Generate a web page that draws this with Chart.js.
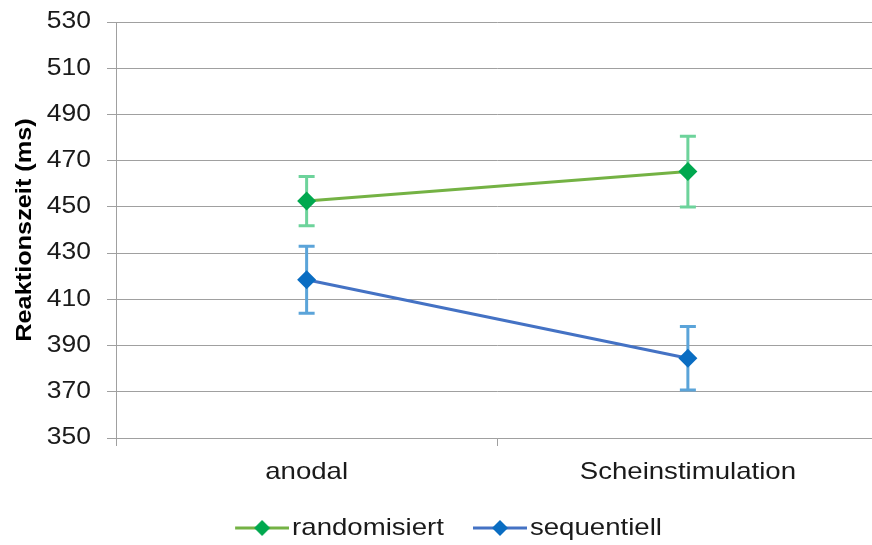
<!DOCTYPE html>
<html><head><meta charset="utf-8">
<script src="https://cdn.jsdelivr.net/npm/chart.js@4"></script>
<style>html,body{margin:0;padding:0;overflow:hidden;background:#fff}#c{display:block}</style>
</head><body>
<canvas id="c" width="888" height="545" style="width:888px;height:545px"></canvas>
<script>
const categories = ['anodal', 'Scheinstimulation'];
const randomisiert = [452.5, 465.3];
const randomisiertErr = [10.7, 15.3];
const sequentiell = [418.5, 384.5];
const sequentiellErr = [14.5, 13.7];
const yTicks = [350, 370, 390, 410, 430, 450, 470, 490, 510, 530];

const FONT = 'Liberation Sans, Arial, sans-serif';
const STRETCH = 1.15;

// widen glyphs horizontally (reference text is rendered wide)
(function patchCtx() {
  const proto = CanvasRenderingContext2D.prototype;
  const ft = proto.fillText, mt = proto.measureText;
  proto.fillText = function (t, x, y, mw) {
    this.save(); this.translate(x, y); this.scale(STRETCH, 1);
    if (mw !== undefined) ft.call(this, t, 0, 0, mw / STRETCH); else ft.call(this, t, 0, 0);
    this.restore();
  };
  proto.measureText = function (t) {
    const m = mt.call(this, t);
    return {width: m.width * STRETCH, actualBoundingBoxAscent: m.actualBoundingBoxAscent,
      actualBoundingBoxDescent: m.actualBoundingBoxDescent,
      actualBoundingBoxLeft: m.actualBoundingBoxLeft * STRETCH, actualBoundingBoxRight: m.actualBoundingBoxRight * STRETCH};
  };
})();

const ICON_BOX = 66;
function legendIcon(line, marker) {
  const c = document.createElement('canvas');
  c.width = ICON_BOX + 18; c.height = 20;
  const g = c.getContext('2d');
  const x0 = c.width - 54, x1 = c.width, xm = (x0 + x1) / 2;
  g.strokeStyle = line; g.lineWidth = 3;
  g.beginPath(); g.moveTo(x0, 10); g.lineTo(x1, 10); g.stroke();
  g.fillStyle = marker;
  g.beginPath(); g.moveTo(xm, 2); g.lineTo(xm + 8, 10); g.lineTo(xm, 18); g.lineTo(xm - 8, 10); g.closePath(); g.fill();
  return c;
}

const series = [
  {label: 'randomisiert', data: randomisiert, err: randomisiertErr, line: '#74b244', marker: '#00a84f', errColor: '#6dd39b'},
  {label: 'sequentiell', data: sequentiell, err: sequentiellErr, line: '#4472c4', marker: '#0a6dc2', errColor: '#5ba4d9'}
];

const errorBars = {
  id: 'errorBars',
  beforeDatasetsDraw(chart) {
    const ctx = chart.ctx;
    const x = chart.scales.x, y = chart.scales.y;
    series.forEach((s) => {
      s.data.forEach((v, i) => {
        const px = x.getPixelForValue(i);
        const top = y.getPixelForValue(v + s.err[i]);
        const bot = y.getPixelForValue(v - s.err[i]);
        ctx.save();
        ctx.strokeStyle = s.errColor; ctx.lineWidth = 3;
        ctx.beginPath();
        ctx.moveTo(px, top); ctx.lineTo(px, bot);
        ctx.moveTo(px - 8, top); ctx.lineTo(px + 8, top);
        ctx.moveTo(px - 8, bot); ctx.lineTo(px + 8, bot);
        ctx.stroke();
        ctx.restore();
      });
    });
  }
};

const nudgeLegend = {
  id: 'nudgeLegend',
  afterUpdate(chart) {
    const l = chart.legend;
    l.left -= 6; l.right -= 6; l.top += 5; l.bottom += 5;
  }
};

new Chart(document.getElementById('c'), {
  type: 'line',
  data: {
    labels: categories,
    datasets: series.map(s => ({
      label: s.label, data: s.data,
      borderColor: s.line, backgroundColor: s.marker,
      borderWidth: 3, pointStyle: 'rectRot', pointRadius: 9.5, pointHoverRadius: 9.5,
      pointBackgroundColor: s.marker, pointBorderColor: s.marker, pointBorderWidth: 0,
      tension: 0
    }))
  },
  options: {
    responsive: false, animation: false,
    layout: {padding: {top: 22, left: 0, right: 0, bottom: 0}},
    plugins: {
      tooltip: {enabled: false},
      legend: {
        position: 'bottom',
        labels: {
          usePointStyle: true, pointStyleWidth: ICON_BOX, boxHeight: 20,
          padding: 8,
          color: '#1a1a1a',
          font: {family: FONT, size: 24},
          generateLabels: () => series.map((s, i) => ({
            text: s.label, datasetIndex: i, pointStyle: legendIcon(s.line, s.marker),
            fillStyle: s.marker, strokeStyle: s.line, lineWidth: 0, fontColor: '#1a1a1a'
          }))
        }
      }
    },
    scales: {
      x: {
        offset: true,
        grid: {display: true, drawOnChartArea: false, drawTicks: true, tickLength: 8, color: '#a0a0a0', offset: true},
        border: {color: '#a0a0a0', width: 1},
        ticks: {color: '#1a1a1a', padding: 12, font: {family: FONT, size: 24}},
        afterFit(s) { s.height = 65; s.paddingLeft = 0; s.paddingRight = 0; }
      },
      y: {
        min: 350, max: 530,
        afterBuildTicks(s) { s.ticks = yTicks.map(v => ({value: v})); },
        grid: {color: '#a0a0a0', tickLength: 9, lineWidth: 1},
        border: {color: '#a0a0a0', width: 1},
        ticks: {color: '#1a1a1a', padding: 16, font: {family: FONT, size: 23}},
        title: {display: true, text: 'Reaktionszeit (ms)', color: '#000', padding: {top: 12, bottom: 0},
          font: {family: FONT, size: 22, weight: 'bold'}},
        afterFit(s) { s.width = 116; s.paddingTop = 0; s.paddingBottom = 0; }
      }
    }
  },
  plugins: [errorBars, nudgeLegend]
});
</script>
</body></html>
